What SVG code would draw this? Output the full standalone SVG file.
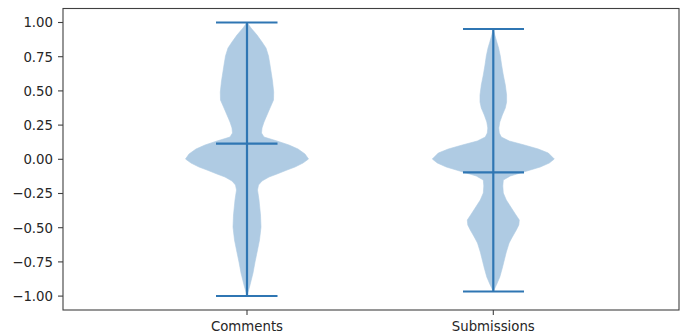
<svg xmlns="http://www.w3.org/2000/svg" width="683" height="334" viewBox="0 0 683 334">
<style>
.bg{fill:#ffffff}
.body{fill:#afcbe3;stroke:#afcbe3;stroke-width:0.6;stroke-linejoin:round}
.stat{stroke:#2f76b3;stroke-width:2.2;fill:none}
.spine{stroke:#404040;stroke-width:1.1;fill:none}
.tick{stroke:#404040;stroke-width:1.1}
.lbl{font-family:"DejaVu Sans",sans-serif;font-size:13.3px;fill:#262626}
.yl{text-anchor:end}
.xl{text-anchor:middle}
</style>
<rect class="bg" x="0" y="0" width="683" height="334"/>
<g id="axes">
  <rect class="spine" x="63" y="8.5" width="616" height="301.5"/>
  <g id="yticks">
    <line class="tick" x1="58" y1="22.5" x2="63" y2="22.5"/>
    <line class="tick" x1="58" y1="56.7" x2="63" y2="56.7"/>
    <line class="tick" x1="58" y1="90.9" x2="63" y2="90.9"/>
    <line class="tick" x1="58" y1="125.1" x2="63" y2="125.1"/>
    <line class="tick" x1="58" y1="159.3" x2="63" y2="159.3"/>
    <line class="tick" x1="58" y1="193.5" x2="63" y2="193.5"/>
    <line class="tick" x1="58" y1="227.7" x2="63" y2="227.7"/>
    <line class="tick" x1="58" y1="261.9" x2="63" y2="261.9"/>
    <line class="tick" x1="58" y1="296.1" x2="63" y2="296.1"/>
    <text class="lbl yl" x="53" y="27.3">1.00</text>
    <text class="lbl yl" x="53" y="61.5">0.75</text>
    <text class="lbl yl" x="53" y="95.7">0.50</text>
    <text class="lbl yl" x="53" y="129.9">0.25</text>
    <text class="lbl yl" x="53" y="164.1">0.00</text>
    <text class="lbl yl" x="53" y="198.3">−0.25</text>
    <text class="lbl yl" x="53" y="232.5">−0.50</text>
    <text class="lbl yl" x="53" y="266.7">−0.75</text>
    <text class="lbl yl" x="53" y="300.9">−1.00</text>
  </g>
  <g id="xticks">
    <line class="tick" x1="247" y1="310" x2="247" y2="315"/>
    <line class="tick" x1="493.3" y1="310" x2="493.3" y2="315"/>
    <text class="lbl xl" x="247" y="330.5">Comments</text>
    <text class="lbl xl" x="493.3" y="330.5">Submissions</text>
  </g>
</g>
<g id="comments">
  <path class="body" d="M247,22.5 L251,28 L257,35 L262,42 L266,48 L268.5,56 L270,65 L272.5,81 L273.7,92 L273.5,100 L270,108 L267,115 L264,122 L262,128 L261.5,133 L264,137 L277,141 L289,145 L298,149 L305,154 L308.5,159 L303,163 L295,167 L287,170 L277,174 L269,177 L262,181 L258.5,185 L257.5,190 L259,200 L260.5,215 L261,227 L259.5,240 L257.5,250 L255,262 L253,273 L250,285 L247,296 L244,285 L241,273 L239,262 L236.5,250 L234.5,240 L233,227 L233.5,215 L235,200 L236.5,190 L235.5,185 L232,181 L225,177 L217,174 L207,170 L199,167 L191,163 L185.5,159 L189,154 L196,149 L205,145 L217,141 L230,137 L232.5,133 L232,128 L230,122 L227,115 L224,108 L220.5,100 L220.3,92 L221.5,81 L224,65 L225.5,56 L228,48 L232,42 L237,35 L243,28 Z"/>
  <line class="stat" x1="247" y1="22.5" x2="247" y2="296"/>
  <line class="stat" x1="216" y1="22.5" x2="277.5" y2="22.5"/>
  <line class="stat" x1="216" y1="296" x2="277.5" y2="296"/>
  <line class="stat" x1="216" y1="143.7" x2="277.5" y2="143.7"/>
</g>
<g id="submissions">
  <path class="body" d="M493.3,29 L494.8,35 L496.8,42 L498.6,48 L500.3,56 L501.6,65 L503.3,75 L505.3,85 L506.6,95 L506.6,102 L505.3,108 L502.3,115 L499.8,122 L498.8,128 L499.3,133 L501.3,137 L509.3,141 L524.3,145 L538.3,149 L548.3,153 L554.3,159 L549.3,163 L540.3,167 L530.3,170 L519.3,173.3 L510.3,176 L503.3,180 L502.8,186 L503.3,193 L506.3,200 L510.8,207 L515.3,214 L519.3,220 L518.8,225 L516.3,230 L512.3,237 L509.1,243 L506.3,252 L504.3,260 L502.3,268 L499.8,277 L496.8,284 L493.3,291.5 L489.8,284 L486.8,277 L484.3,268 L482.3,260 L480.3,252 L477.5,243 L474.3,237 L470.3,230 L467.8,225 L467.3,220 L471.3,214 L475.8,207 L480.3,200 L483.3,193 L483.8,186 L483.3,180 L476.3,176 L467.3,173.3 L456.3,170 L446.3,167 L437.3,163 L432.3,159 L438.3,153 L448.3,149 L462.3,145 L477.3,141 L485.3,137 L487.3,133 L487.8,128 L486.8,122 L484.3,115 L481.3,108 L480,102 L480,95 L481.3,85 L483.3,75 L485,65 L486.3,56 L488,48 L489.8,42 L491.8,35 Z"/>
  <line class="stat" x1="493.3" y1="29" x2="493.3" y2="291.5"/>
  <line class="stat" x1="463" y1="29" x2="524" y2="29"/>
  <line class="stat" x1="463" y1="291.5" x2="524" y2="291.5"/>
  <line class="stat" x1="463" y1="172.3" x2="524" y2="172.3"/>
</g>
</svg>
